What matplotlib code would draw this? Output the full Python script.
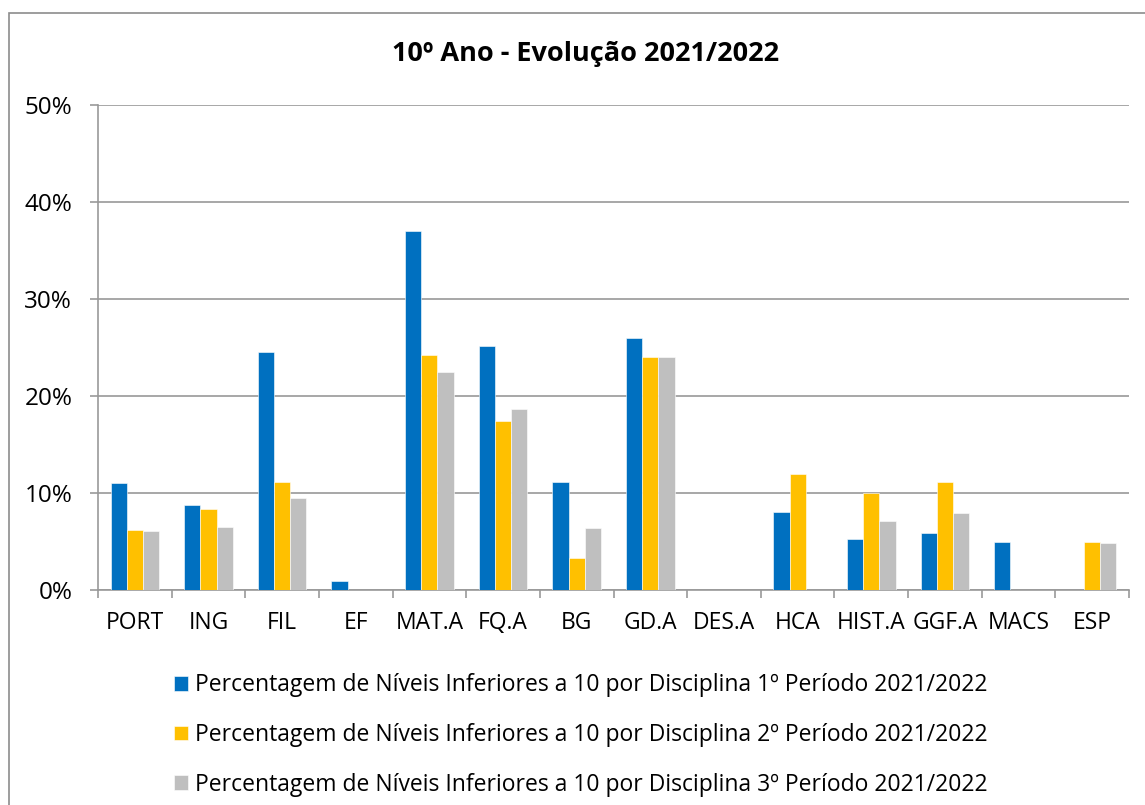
import numpy as np
import matplotlib.pyplot as plt
from matplotlib.patches import Rectangle
from matplotlib.ticker import PercentFormatter

plt.rcParams['font.family'] = ['Open Sans', 'DejaVu Sans']

disciplinas = ['PORT', 'ING', 'FIL', 'EF', 'MAT.A', 'FQ.A', 'BG', 'GD.A',
               'DES.A', 'HCA', 'HIST.A', 'GGF.A', 'MACS', 'ESP']
periodo1 = [11.0, 8.8, 24.5, 0.9, 37.0, 25.2, 11.1, 26.0, 0, 8.0, 5.3, 5.9, 5.0, 0]
periodo2 = [6.2, 8.3, 11.1, 0, 24.2, 17.4, 3.3, 24.0, 0, 12.0, 10.0, 11.1, 0, 5.0]
periodo3 = [6.1, 6.5, 9.5, 0, 22.5, 18.7, 6.4, 24.0, 0, 0, 7.1, 7.9, 0, 4.8]
legendas = ['Percentagem de Níveis Inferiores a 10 por Disciplina 1º Período 2021/2022',
            'Percentagem de Níveis Inferiores a 10 por Disciplina 2º Período 2021/2022',
            'Percentagem de Níveis Inferiores a 10 por Disciplina 3º Período 2021/2022']
cores = ['#0070C0', '#FFC000', '#BFBFBF']

fig = plt.figure(figsize=(11.45, 8.05), dpi=100)
ax = fig.add_axes([98 / 1145, 215 / 805, 1031 / 1145, 485 / 805])

# chart border
fig.patches.append(Rectangle((9 / 1145, -0.01), 1.02, (805 - 13) / 805 + 0.01,
                             transform=fig.transFigure, fill=False,
                             edgecolor='#8c8c8c', lw=1.2))

x = np.arange(len(disciplinas))
w = 0.22
for i, (serie, cor, lab) in enumerate(zip([periodo1, periodo2, periodo3], cores, legendas)):
    ax.bar(x + (i - 1) * w, serie, width=w, color=cor, edgecolor='white',
           linewidth=0.4, label=lab, zorder=3)

ax.set_xlim(-0.5, len(disciplinas) - 0.5)
ax.set_ylim(0, 50)
ax.set_yticks(np.arange(0, 51, 10))
ax.yaxis.set_major_formatter(PercentFormatter(decimals=0))
ax.grid(axis='y', color='#a0a0a0', lw=1.3, zorder=0)

ax.set_xticks(np.arange(-0.5, len(disciplinas), 1))
ax.set_xticklabels([])
ax.set_xticks(x, minor=True)
ax.set_xticklabels(disciplinas, minor=True)
ax.tick_params(axis='x', which='major', length=6, color='#999999', width=1.2)
ax.tick_params(axis='x', which='minor', length=0, labelsize=16.5, pad=15)
ax.tick_params(axis='y', length=6, color='#999999', width=1.2, labelsize=17.5, pad=12.5)

for s in ['top', 'right']:
    ax.spines[s].set_visible(False)
for s in ['left', 'bottom']:
    ax.spines[s].set_color('#999999')
    ax.spines[s].set_linewidth(1.2)

fig.text(586 / 1145, 1 - 54 / 805, '10º Ano - Evolução 2021/2022', ha='center', va='center',
         fontsize=19.5, fontweight='bold')

fig.legend(loc='upper left', bbox_to_anchor=(165 / 1145, 1 - 664 / 805), frameon=False,
           fontsize=16.5, handlelength=0.62, handleheight=0.62, handletextpad=0.3,
           labelspacing=1.13, borderaxespad=0)

fig.savefig('out.png', dpi=100)
